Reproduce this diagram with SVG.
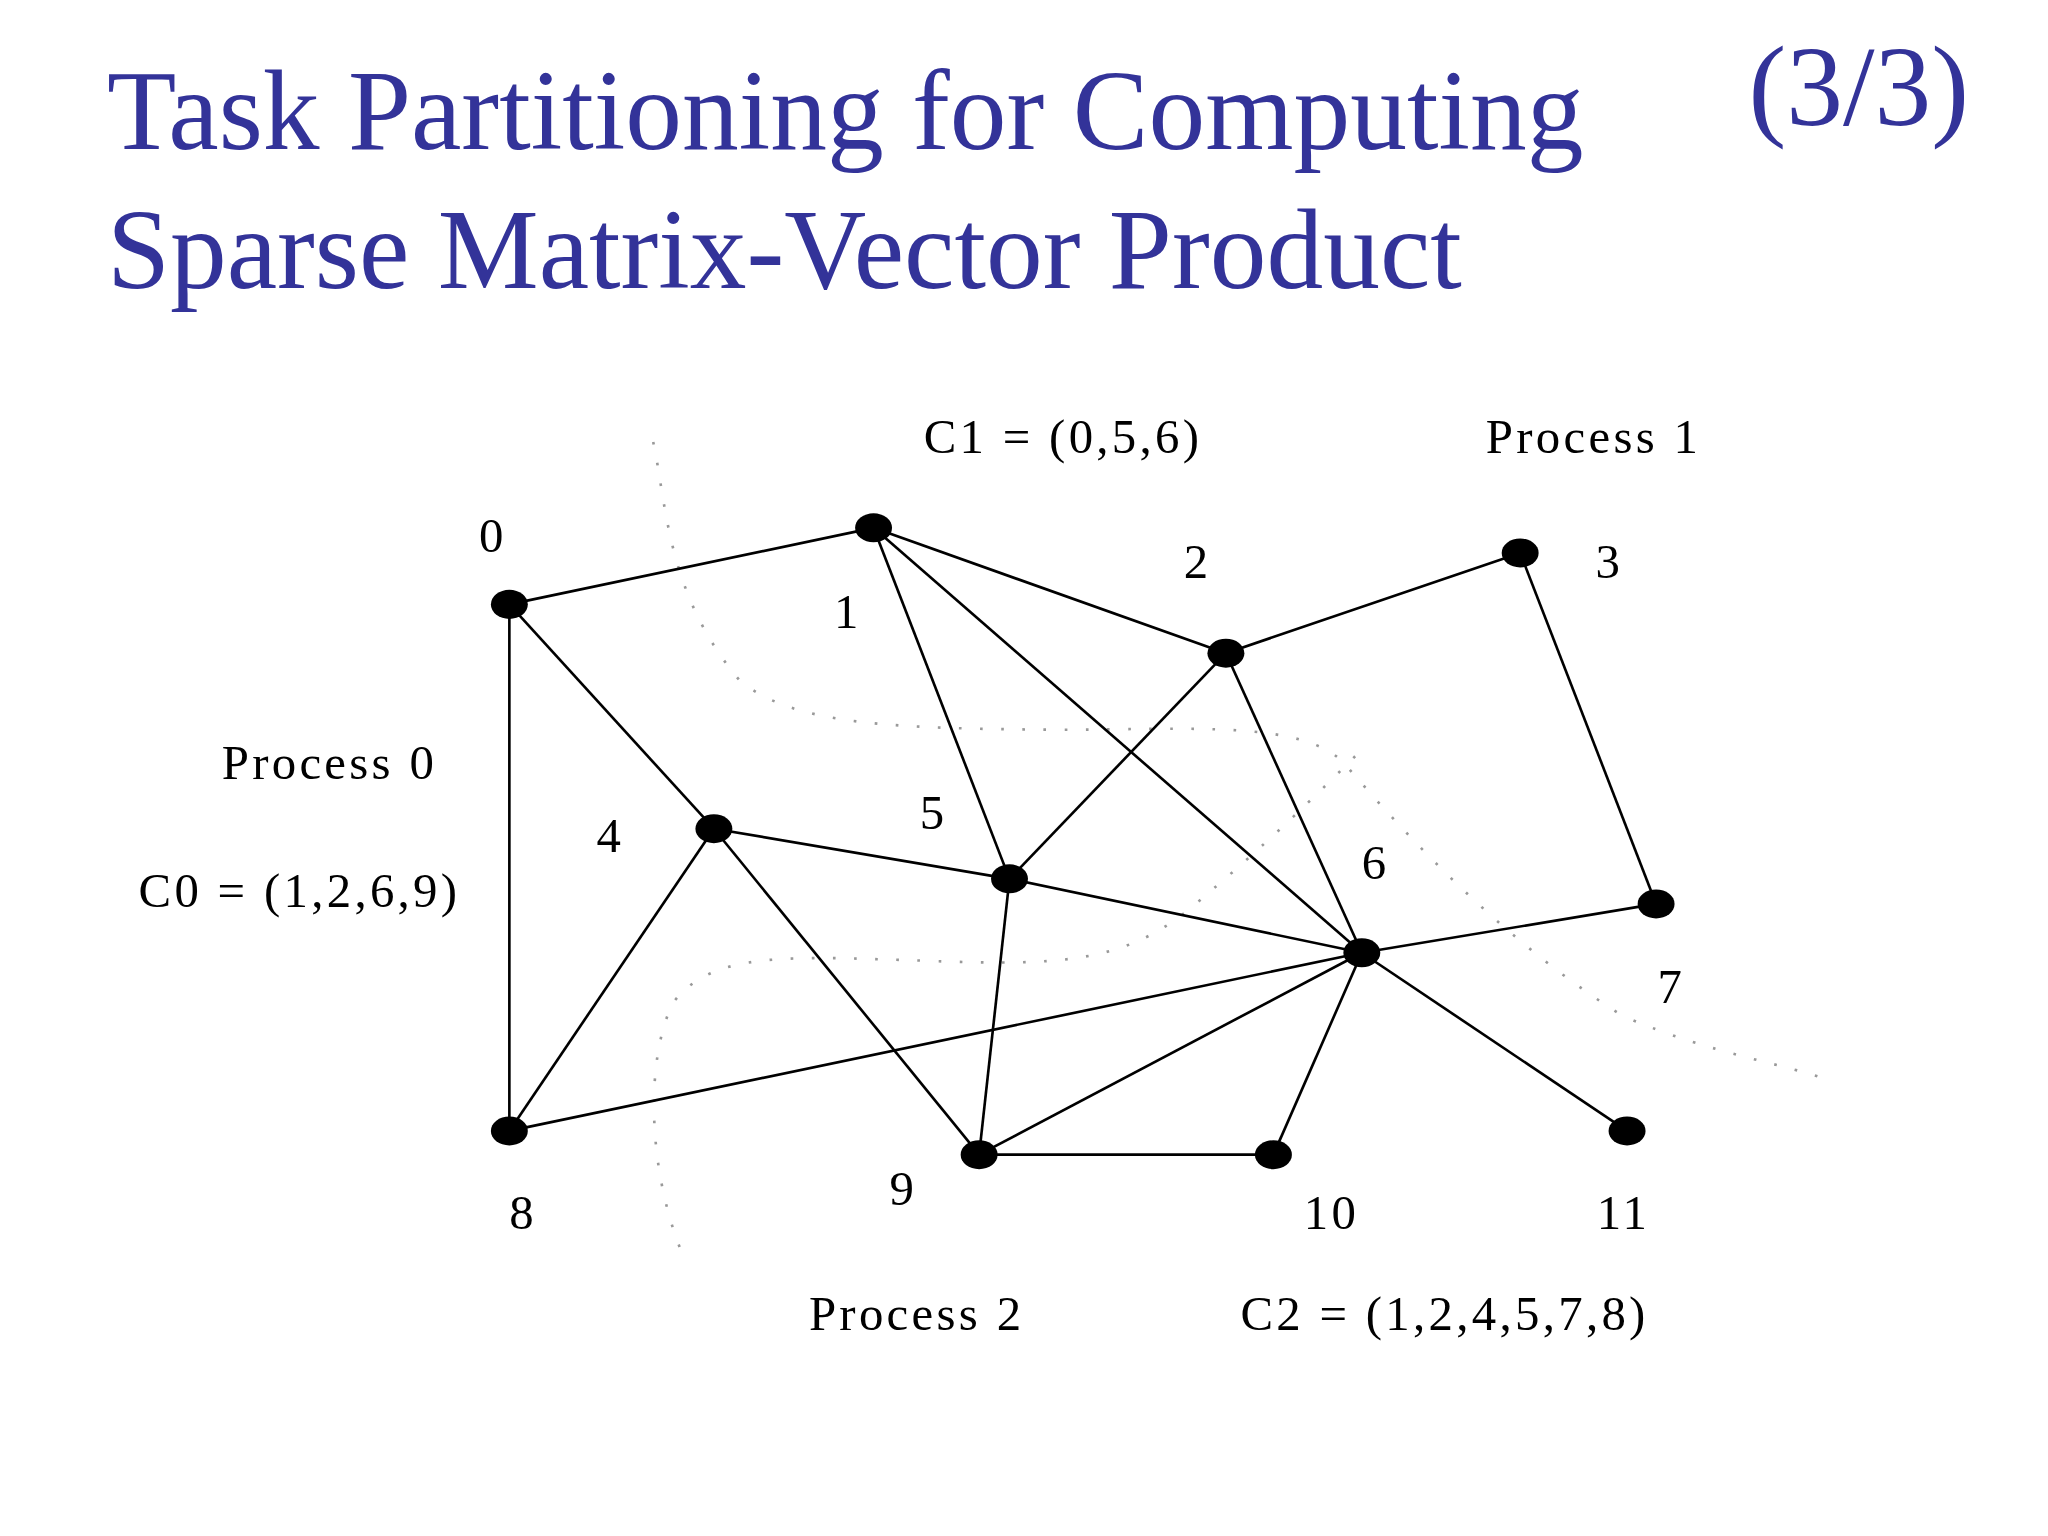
<svg xmlns="http://www.w3.org/2000/svg" width="2048" height="1536" viewBox="0 0 2048 1536">
<style>
.t{font-family:"Liberation Serif",serif;fill:#333399;font-size:86px}
.l{font-family:"Liberation Serif",serif;fill:#000;font-size:37px;letter-spacing:2.5px}
.e line{stroke:#000;stroke-width:2}
.n ellipse{fill:#000}
.d{fill:none;stroke:#999;stroke-width:2;stroke-dasharray:2 14}
</style>
<rect width="2048" height="1536" fill="#fff"/>
<g transform="scale(1.3196)">
<text class="t" x="81" y="113">Task Partitioning for Computing</text>
<text class="t" x="1325" y="95">(3/3)</text>
<text class="t" x="81" y="218">Sparse Matrix-Vector Product</text>
<path class="d" d="M495,335 C505,380 505,450 560,515 C600,550 680,552 800,553 C900,553 990,545 1020,580 C1080,650 1150,720 1230,770 C1300,800 1350,805 1390,820"/>
<path class="d" d="M515,945 C490,880 490,800 510,760 C540,720 600,725 700,728 C800,732 850,730 900,690 C960,640 1000,600 1030,570"/>
<g id="connectors" class="e">
<line x1="386" y1="458" x2="662" y2="400"/>
<line x1="386" y1="458" x2="541" y2="628"/>
<line x1="386" y1="458" x2="386" y2="857"/>
<line x1="662" y1="400" x2="929" y2="495"/>
<line x1="662" y1="400" x2="765" y2="666"/>
<line x1="662" y1="400" x2="1032" y2="722"/>
<line x1="929" y1="495" x2="1152" y2="419"/>
<line x1="929" y1="495" x2="765" y2="666"/>
<line x1="929" y1="495" x2="1032" y2="722"/>
<line x1="1152" y1="419" x2="1255" y2="685"/>
<line x1="541" y1="628" x2="765" y2="666"/>
<line x1="541" y1="628" x2="386" y2="857"/>
<line x1="541" y1="628" x2="742" y2="875"/>
<line x1="765" y1="666" x2="1032" y2="722"/>
<line x1="765" y1="666" x2="742" y2="875"/>
<line x1="1032" y1="722" x2="1255" y2="685"/>
<line x1="1032" y1="722" x2="386" y2="857"/>
<line x1="1032" y1="722" x2="742" y2="875"/>
<line x1="1032" y1="722" x2="965" y2="875"/>
<line x1="1032" y1="722" x2="1233" y2="857"/>
<line x1="742" y1="875" x2="965" y2="875"/>
</g>
<g class="n">
<g id="n0"><ellipse cx="386" cy="458" rx="14" ry="11"/><text class="l" x="363" y="418">0</text></g>
<g id="n1"><ellipse cx="662" cy="400" rx="14" ry="11"/><text class="l" x="632" y="476">1</text></g>
<g id="n2"><ellipse cx="929" cy="495" rx="14" ry="11"/><text class="l" x="897" y="438">2</text></g>
<g id="n3"><ellipse cx="1152" cy="419" rx="14" ry="11"/><text class="l" x="1209" y="438">3</text></g>
<g id="n4"><ellipse cx="541" cy="628" rx="14" ry="11"/><text class="l" x="452" y="646">4</text></g>
<g id="n5"><ellipse cx="765" cy="666" rx="14" ry="11"/><text class="l" x="697" y="628">5</text></g>
<g id="n6"><ellipse cx="1032" cy="722" rx="14" ry="11"/><text class="l" x="1032" y="666">6</text></g>
<g id="n7"><ellipse cx="1255" cy="685" rx="14" ry="11"/><text class="l" x="1256" y="760">7</text></g>
<g id="n8"><ellipse cx="386" cy="857" rx="14" ry="11"/><text class="l" x="386" y="931">8</text></g>
<g id="n9"><ellipse cx="742" cy="875" rx="14" ry="11"/><text class="l" x="674" y="913">9</text></g>
<g id="n10"><ellipse cx="965" cy="875" rx="14" ry="11"/><text class="l" x="988" y="931">10</text></g>
<g id="n11"><ellipse cx="1233" cy="857" rx="14" ry="11"/><text class="l" x="1210" y="931">11</text></g>
</g>
<text class="l" x="700" y="343">C1 = (0,5,6)</text>
<text class="l" x="1126" y="343">Process 1</text>
<text class="l" x="168" y="590">Process 0</text>
<text class="l" x="105" y="687">C0 = (1,2,6,9)</text>
<text class="l" x="613" y="1008">Process 2</text>
<text class="l" x="940" y="1008">C2 = (1,2,4,5,7,8)</text>
</g>
</svg>
